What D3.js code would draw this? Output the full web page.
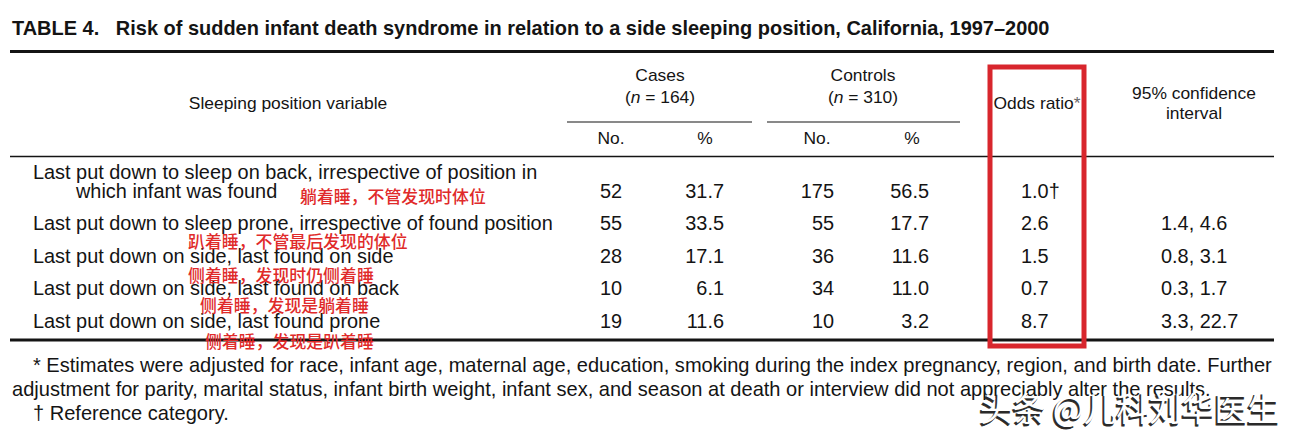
<!DOCTYPE html>
<html><head><meta charset="utf-8">
<script src="https://cdn.jsdelivr.net/npm/d3@7"></script>
<style>body{margin:0;background:#fff;} svg{display:block;background:#fff}</style>
</head><body><svg id="c" width="1295" height="440"></svg>
<script>
// ---------------- data ----------------
const title = "TABLE 4.\u00a0\u00a0\u00a0Risk of sudden infant death syndrome in relation to a side sleeping position, California, 1997–2000";
const categories = [
  ["Last put down to sleep on back, irrespective of position in", "which infant was found"],
  ["Last put down to sleep prone, irrespective of found position"],
  ["Last put down on side, last found on side"],
  ["Last put down on side, last found on back"],
  ["Last put down on side, last found prone"]
];
const annotations = ["躺着睡，不管发现时体位", "趴着睡，不管最后发现的体位", "侧着睡，发现时仍侧着睡", "侧着睡，发现是躺着睡", "侧着睡，发现是趴着睡"];
const casesNo = ["52", "55", "28", "10", "19"];
const casesPct = ["31.7", "33.5", "17.1", "6.1", "11.6"];
const controlsNo = ["175", "55", "36", "34", "10"];
const controlsPct = ["56.5", "17.7", "11.6", "11.0", "3.2"];
const oddsRatio = ["1.0†", "2.6", "1.5", "0.7", "8.7"];
const confInterval = ["", "1.4, 4.6", "0.8, 3.1", "0.3, 1.7", "3.3, 22.7"];
const groupHeaders = [["Cases", "164"], ["Controls", "310"]];
const subHeaders = ["No.", "%", "No.", "%"];
const footnotes = [
  "* Estimates were adjusted for race, infant age, maternal age, education, smoking during the index pregnancy, region, and birth date. Further",
  "adjustment for parity, marital status, infant birth weight, infant sex, and season at death or interview did not appreciably alter the results.",
  "† Reference category."
];
const watermark = "头条 @儿科刘华医生";

// ---------------- layout ----------------
const svg = d3.select("#c");
const FONT = "'Liberation Sans', Arial, Helvetica, sans-serif";
const CJK = "'Noto Sans CJK SC', sans-serif";
const ink = "#141414";

const rowIdx = d3.range(categories.length);
const y = d3.scalePoint().domain(rowIdx).range([191, 321]);

const columns = [
  {vals: casesNo, x: 622, anchor: "end"},
  {vals: casesPct, x: 724, anchor: "end"},
  {vals: controlsNo, x: 834, anchor: "end"},
  {vals: controlsPct, x: 929, anchor: "end"},
  {vals: oddsRatio, x: 1021, anchor: "start"},
  {vals: confInterval, x: 1161, anchor: "start"}
];

function fitSize(text, family, weight, target) {
  const t = svg.append("text").attr("font-family", family).attr("font-weight", weight)
    .attr("font-size", 20).text(text);
  const w = t.node().getComputedTextLength();
  t.remove();
  return 20 * target / w;
}
const bodySize = fitSize(categories[1][0], FONT, "normal", 520);
const headSize = fitSize("95% confidence", FONT, "normal", 124);
const titleSize = fitSize(title, FONT, "bold", 1038);
const footSize = fitSize(footnotes[0], FONT, "normal", 1240);
const cjkSize = fitSize(annotations[0], CJK, "500", 186);
const wmSize = fitSize(watermark, CJK, "normal", 300);

function txt(x, yy, s, opts = {}) {
  return svg.append("text").attr("x", x).attr("y", yy).attr("dy", "0.35em")
    .attr("font-family", opts.family || FONT)
    .attr("font-size", opts.size || bodySize)
    .attr("font-weight", opts.weight || "normal")
    .attr("text-anchor", opts.anchor || "start")
    .attr("fill", opts.fill || ink)
    .text(s);
}

// title
txt(12, 28, title, {size: titleSize, weight: "bold"});

// rules
const rule = (x1, x2, yy, w) => svg.append("line").attr("x1", x1).attr("x2", x2)
  .attr("y1", yy).attr("y2", yy).attr("stroke", ink).attr("stroke-width", w);
rule(10, 1274, 51.5, 3.2);
rule(567, 752, 122, 1.2);
rule(767, 960, 122, 1.2);
rule(10, 1274, 156.5, 1.4);
rule(10, 1274, 340, 3.2);

// header
const hs = {size: headSize, anchor: "middle"};
txt(288, 103, "Sleeping position variable", hs);
const groupX = [660, 863];
groupHeaders.forEach((g, i) => {
  txt(groupX[i], 75, g[0], hs);
  const t = txt(groupX[i], 97, "(", hs);
  t.append("tspan").attr("font-style", "italic").text("n");
  t.append("tspan").text(" = " + g[1] + ")");
});
const subX = [611, 705, 817, 912];
subHeaders.forEach((s, i) => txt(subX[i], 138, s, hs));
const orH = txt(1037, 103, "Odds ratio", hs);
orH.append("tspan").attr("fill", "#666").text("*");
txt(1194, 93, "95% confidence", hs);
txt(1194, 113, "interval", hs);

// rows
rowIdx.forEach(i => {
  const lines = categories[i];
  if (lines.length === 2) {
    txt(33, y(i) - 19, lines[0]);
    txt(76, y(i), lines[1]);
  } else {
    txt(33, y(i), lines[0]);
  }
  columns.forEach(c => txt(c.x, y(i), c.vals[i], {anchor: c.anchor}));
});

// red annotations (Chinese notes)
const annoPos = [[300, 6], [188, 19], [188, 20], [200, 18], [205, 21]];
annotations.forEach((a, i) => {
  txt(annoPos[i][0], y(i) + annoPos[i][1], a, {family: CJK, size: cjkSize, weight: "500", fill: "#e02a2a"});
});

// red highlight box
svg.append("rect").attr("x", 990).attr("y", 67).attr("width", 94).attr("height", 279)
  .attr("fill", "none").attr("stroke", "#d8262d").attr("stroke-width", 5);

// footnotes
txt(33, 365, footnotes[0], {size: footSize});
txt(12, 389, footnotes[1], {size: footSize});
txt(33, 413, footnotes[2], {size: footSize});

// watermark (white text with dark shadow edge)
svg.append("text").attr("x", 978.5).attr("y", 422.5).attr("font-family", CJK).attr("font-size", wmSize)
  .attr("font-weight", "normal").attr("fill", "#2a2a2a").attr("stroke", "#2a2a2a").attr("stroke-width", 0.8)
  .text(watermark);
svg.append("text").attr("x", 980).attr("y", 421).attr("font-family", CJK).attr("font-size", wmSize)
  .attr("font-weight", "normal").attr("fill", "#fff").text(watermark);
</script>
</body></html>
